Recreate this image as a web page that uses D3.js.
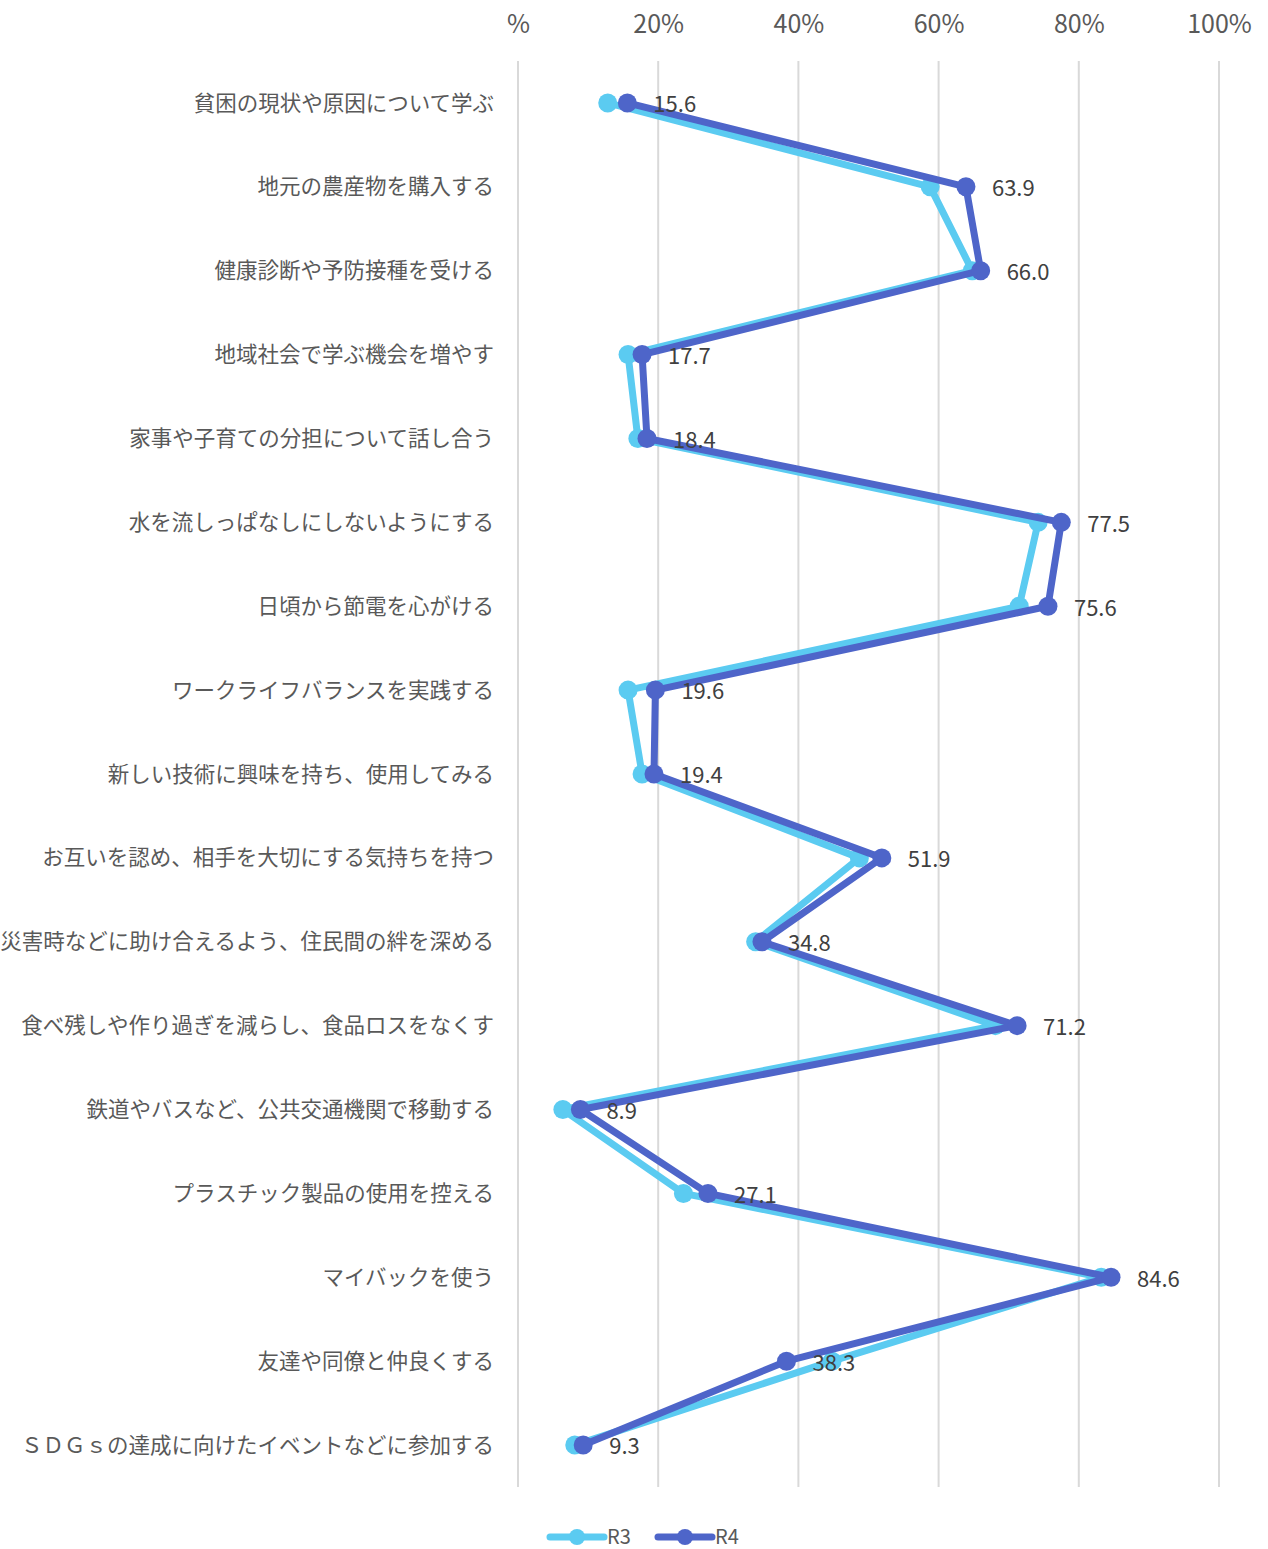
<!DOCTYPE html>
<html lang="ja">
<head>
<meta charset="utf-8">
<script src="https://cdn.jsdelivr.net/npm/d3@7"></script>
<style>
  html, body { margin: 0; padding: 0; background: #ffffff; }
  svg { display: block; font-family: "Noto Sans CJK JP", "Noto Sans", sans-serif; }
</style>
</head>
<body>
<svg id="chart" width="1268" height="1549"></svg>
<script>
// Survey items (top to bottom)
const categories = [
  "貧困の現状や原因について学ぶ",
  "地元の農産物を購入する",
  "健康診断や予防接種を受ける",
  "地域社会で学ぶ機会を増やす",
  "家事や子育ての分担について話し合う",
  "水を流しっぱなしにしないようにする",
  "日頃から節電を心がける",
  "ワークライフバランスを実践する",
  "新しい技術に興味を持ち、使用してみる",
  "お互いを認め、相手を大切にする気持ちを持つ",
  "災害時などに助け合えるよう、住民間の絆を深める",
  "食べ残しや作り過ぎを減らし、食品ロスをなくす",
  "鉄道やバスなど、公共交通機関で移動する",
  "プラスチック製品の使用を控える",
  "マイバックを使う",
  "友達や同僚と仲良くする",
  "ＳＤＧｓの達成に向けたイベントなどに参加する"
];

// Percentages for each year
const valuesR3 = [12.8, 58.8, 64.8, 15.7, 17.1, 74.2, 71.5, 15.7, 17.7, 48.7, 33.9, 68.1, 6.4, 23.6, 83.2, 44.8, 8.1];
const valuesR4 = [15.6, 63.9, 66.0, 17.7, 18.4, 77.5, 75.6, 19.6, 19.4, 51.9, 34.8, 71.2, 8.9, 27.1, 84.6, 38.3, 9.3];

const seriesNames = ["R3", "R4"];
const tickValues = [0, 20, 40, 60, 80, 100];
const tickLabels = ["%", "20%", "40%", "60%", "80%", "100%"];

const colors = { R3: "#5BCBF1", R4: "#4E65C9" };

const svg = d3.select("#chart");
const plot = { left: 518, right: 1219, top: 61, bottom: 1487 };

const x = d3.scaleLinear().domain([0, 100]).range([plot.left, plot.right]);
const y = d3.scalePoint().domain(categories).range([plot.top, plot.bottom]).padding(0.5);

// vertical gridlines
svg.append("g")
  .selectAll("line")
  .data(tickValues)
  .join("line")
  .attr("x1", d => x(d)).attr("x2", d => x(d))
  .attr("y1", plot.top).attr("y2", plot.bottom)
  .attr("stroke", "#d9d9d9")
  .attr("stroke-width", 2);

// top value axis
const xAxis = d3.axisTop(x)
  .tickValues(tickValues)
  .tickFormat((d, i) => tickLabels[i])
  .tickSize(0)
  .tickPadding(0);
const gx = svg.append("g").attr("transform", "translate(0,24)").call(xAxis);
gx.select(".domain").remove();
gx.selectAll("text")
  .attr("fill", "#595959")
  .attr("font-size", 25)
  .attr("dy", "0.36em")
  .style("font-family", "'Noto Sans CJK JP', sans-serif");

// category axis on the left
const yAxis = d3.axisLeft(y).tickSize(0).tickPadding(0);
const gy = svg.append("g").attr("transform", "translate(494,0)").call(yAxis);
gy.select(".domain").remove();
gy.selectAll("text")
  .attr("fill", "#595959")
  .attr("font-size", 21.5)
  .attr("dy", "0.33em")
  .style("font-family", "'Noto Sans CJK JP', sans-serif");

const line = d3.line()
  .x(d => x(d.v))
  .y(d => y(d.c));

const series = [
  { name: "R3", values: valuesR3 },
  { name: "R4", values: valuesR4 }
];

series.forEach(s => {
  const pts = categories.map((c, i) => ({ c, v: s.values[i] }));
  const g = svg.append("g");
  g.append("path")
    .datum(pts)
    .attr("d", line)
    .attr("fill", "none")
    .attr("stroke", colors[s.name])
    .attr("stroke-width", 7)
    .attr("stroke-linejoin", "round")
    .attr("stroke-linecap", "round");
  g.selectAll("circle")
    .data(pts)
    .join("circle")
    .attr("cx", d => x(d.v))
    .attr("cy", d => y(d.c))
    .attr("r", 9.5)
    .attr("fill", colors[s.name]);
});

// value labels for R4
svg.append("g")
  .selectAll("text")
  .data(categories.map((c, i) => ({ c, v: valuesR4[i] })))
  .join("text")
  .attr("x", d => x(d.v) + 26)
  .attr("y", d => y(d.c) + 1)
  .attr("dy", "0.38em")
  .attr("fill", "#404040")
  .attr("font-size", 22)
  .style("font-family", "'Noto Sans CJK JP', sans-serif")
  .text(d => d.v.toFixed(1));

// legend
const legend = svg.append("g").attr("transform", "translate(0,1537)");
const legendItems = [
  { name: "R3", x0: 548 },
  { name: "R4", x0: 656 }
];
legendItems.forEach(item => {
  const g = legend.append("g").attr("transform", `translate(${item.x0},0)`);
  g.append("line")
    .attr("x1", 2).attr("x2", 56)
    .attr("y1", 0).attr("y2", 0)
    .attr("stroke", colors[item.name])
    .attr("stroke-width", 7)
    .attr("stroke-linecap", "round");
  g.append("circle").attr("cx", 29).attr("cy", 0).attr("r", 8).attr("fill", colors[item.name]);
  g.append("text")
    .attr("x", 59).attr("y", 0).attr("dy", "0.33em")
    .attr("fill", "#595959")
    .attr("font-size", 20)
    .style("font-family", "'Noto Sans CJK JP', sans-serif")
    .text(item.name);
});
</script>
</body>
</html>
